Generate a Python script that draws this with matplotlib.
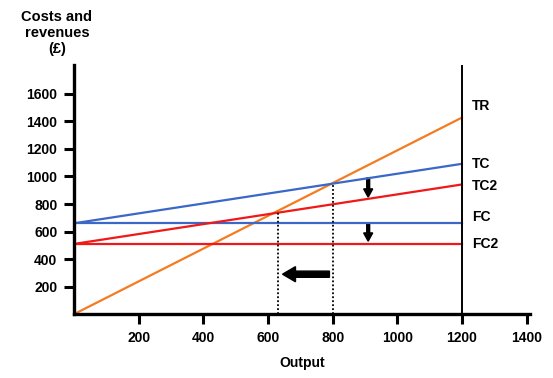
import numpy as np
import matplotlib.pyplot as plt
from matplotlib.patches import FancyArrow

plt.rcParams['font.family'] = ['Liberation Sans', 'DejaVu Sans']
plt.rcParams['font.weight'] = 'bold'

# break-even model values
output_range = [0, 1200]
price = 1.19
fixed_cost = 660
fixed_cost2 = 510
var_cost = 0.36
breakeven = 800
breakeven2 = 630
line_labels = ['TR', 'TC', 'TC2', 'FC', 'FC2']
xticks = [200, 400, 600, 800, 1000, 1200, 1400]
yticks = [200, 400, 600, 800, 1000, 1200, 1400, 1600]

q = np.array(output_range)
tr = price * q
tc = fixed_cost + var_cost * q
tc2 = fixed_cost2 + var_cost * q
fc = fixed_cost + 0 * q
fc2 = fixed_cost2 + 0 * q

fig = plt.figure(figsize=(5.53, 3.78), dpi=100)
ax = fig.add_axes([0.134, 0.169, 0.824, 0.659])

ax.plot(q, tr, color='#F57B20', lw=1.6)
ax.plot(q, tc, color='#3B67C8', lw=1.6)
ax.plot(q, fc, color='#3B67C8', lw=1.6)
ax.plot(q, tc2, color='#F01818', lw=1.6)
ax.plot(q, fc2, color='#F01818', lw=1.6)

# vertical boundary at max output
ax.plot([1200, 1200], [0, 1810], color='black', lw=1.4)

# dotted break-even drops
for b in [breakeven, breakeven2]:
    ax.plot([b, b], [0, price * b], color='black', lw=1.3, ls=(0, (1, 1.2)))

# label at right end of each line
ends = [tr[-1], tc[-1], tc2[-1], fc[-1], fc2[-1]]
offs = [84, 0, -11, 43, -2]
for lab, e, o in zip(line_labels, ends, offs):
    ax.text(1232, e + o, lab, fontsize=10, fontweight='bold', va='center', ha='left')

# shift arrows
ax.add_patch(FancyArrow(910, 990, 0, -140, width=9, head_width=28, head_length=60,
                        color='black', length_includes_head=True))
ax.add_patch(FancyArrow(910, 655, 0, -125, width=9, head_width=28, head_length=60,
                        color='black', length_includes_head=True))
ax.add_patch(FancyArrow(790, 290, -145, 0, width=45, head_width=110, head_length=40,
                        color='black', length_includes_head=True))

ax.set_xlim(0, 1410)
ax.set_ylim(0, 1810)
ax.set_xticks(xticks)
ax.set_yticks(yticks)
ax.tick_params(direction='out', length=7, width=2.2, labelsize=10, pad=5)
for lab in ax.get_xticklabels() + ax.get_yticklabels():
    lab.set_fontweight('bold')
for s in ['top', 'right']:
    ax.spines[s].set_visible(False)
for s in ['left', 'bottom']:
    ax.spines[s].set_linewidth(2.4)

ax.set_xlabel('Output', fontsize=10, fontweight='bold', labelpad=8)
fig.text(0.103, 0.913, 'Costs and\nrevenues\n(£)', fontsize=10.5, fontweight='bold',
         ha='center', va='center', linespacing=1.15)

fig.savefig('out.png', dpi=100)
